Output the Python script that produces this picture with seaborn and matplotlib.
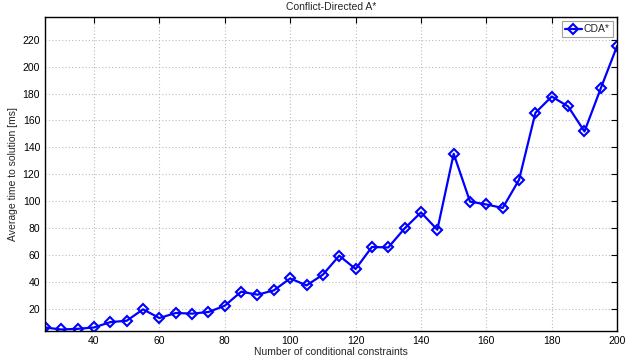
import numpy as np
import pandas as pd
import matplotlib
matplotlib.use('Agg')
import matplotlib.pyplot as plt
import seaborn as sns

# Data
constraints = list(range(25, 205, 5))
avg_time = [6, 4.5, 5, 6, 10, 11, 19.5, 13, 16.8, 16.3, 17.5, 22.2,
            32.6, 30.4, 33.6, 42.5, 37.3, 45.3, 59.4, 49.5, 65.9, 65.5,
            79.7, 91.6, 78.7, 135.2, 99.6, 97.5, 94.9, 115.9, 165.7, 177.8,
            170.4, 151.8, 184, 215.5]
x_ticks = [40, 60, 80, 100, 120, 140, 160, 180, 200]
y_ticks = [20, 40, 60, 80, 100, 120, 140, 160, 180, 200, 220]

df = pd.DataFrame({'constraints': constraints, 'time': avg_time})

sns.set_style('white')
plt.rcParams['font.family'] = ['Liberation Sans', 'DejaVu Sans']
plt.rcParams['font.size'] = 7.5

fig = plt.figure(figsize=(6.33, 3.6), dpi=100)
ax = fig.add_axes([0.071, 0.081, 0.904, 0.872])

sns.lineplot(data=df, x='constraints', y='time', ax=ax, color='#0000ff',
             linewidth=1.6, marker='D', markersize=5.2, markerfacecolor='none',
             markeredgecolor='#0000ff', markeredgewidth=1.5, label='CDA*')

ax.set_xlim(25, 200)
ax.set_ylim(3.5, 237)
ax.set_xticks(x_ticks)
ax.set_yticks(y_ticks)
ax.grid(True, linestyle=(0, (1, 2)), color='#bbbbbb', linewidth=0.8)
ax.tick_params(direction='in', top=True, right=True, length=4, width=0.8,
               labelsize=7.5, colors='black')
for s in ax.spines.values():
    s.set_color('black')
    s.set_linewidth(1)

ax.set_title('Conflict-Directed A*', fontsize=7.5, pad=5)
ax.set_xlabel('Number of conditional constraints', fontsize=7.5, labelpad=1)
ax.set_ylabel('Average time to solution [ms]', fontsize=7.5, labelpad=3)

leg = ax.legend(loc='upper right', fontsize=7.5, frameon=True, fancybox=False,
                borderaxespad=0.4, handlelength=1.6, handletextpad=0.2,
                borderpad=0.3)
leg.get_frame().set_edgecolor('#888888')
leg.get_frame().set_linewidth(0.8)

fig.savefig('out.png', dpi=100)
